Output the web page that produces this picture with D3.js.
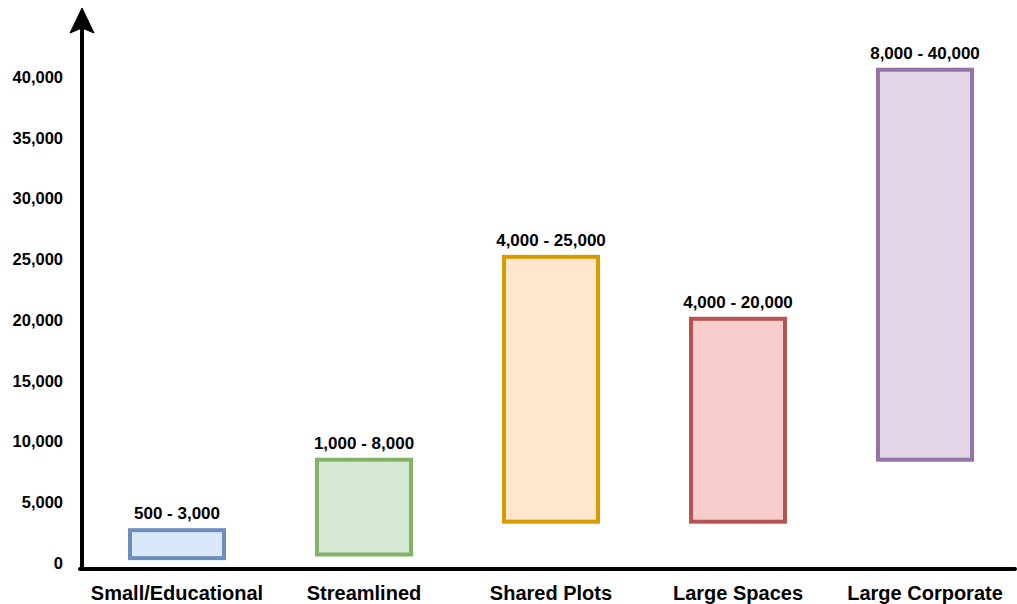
<!DOCTYPE html>
<html>
<head>
<meta charset="utf-8">
<script src="https://cdn.jsdelivr.net/npm/d3@7"></script>
<style>
  body { margin: 0; background: #fff; }
  svg text { font-family: Helvetica, Arial, "Liberation Sans", sans-serif; font-weight: bold; fill: #000; }
</style>
</head>
<body>
<svg id="chart" width="1017" height="604"></svg>
<script>
// categories and ranges (bar extents as drawn in the picture)
var categories = ["Small/Educational", "Streamlined", "Shared Plots", "Large Spaces", "Large Corporate"];
var lows = [400, 700, 3400, 3400, 8500];
var highs = [2700, 8500, 25200, 20100, 40600];
var rangeLabels = ["500 - 3,000", "1,000 - 8,000", "4,000 - 25,000", "4,000 - 20,000", "8,000 - 40,000"];
var yTicks = [0, 5000, 10000, 15000, 20000, 25000, 30000, 35000, 40000];
var fills = ["#dae8fc", "#d5e8d4", "#ffe6cc", "#f8cecc", "#e1d5e7"];
var strokes = ["#6c8ebf", "#82b366", "#d79b00", "#b85450", "#9673a6"];

var data = categories.map(function (c, i) {
    return {cat: c, low: lows[i], high: highs[i], label: rangeLabels[i], fill: fills[i], stroke: strokes[i]};
});

var svg = d3.select("#chart");
var axisX = 82, axisY = 569;

var x = d3.scalePoint()
    .domain(categories)
    .range([177, 925]);
var barW = 94;

var y = d3.scaleLinear()
    .domain([0, 40000])
    .range([563, 77]);

// y tick labels
var yAxis = svg.append("g")
    .attr("transform", "translate(" + axisX + ",0)")
    .call(d3.axisLeft(y).tickValues(yTicks).tickSize(0).tickPadding(19).tickFormat(d3.format(",")));
yAxis.select(".domain").remove();
yAxis.selectAll("text")
    .style("font-size", "16.5px")
    .style("font-family", "Helvetica, Arial, 'Liberation Sans', sans-serif")
    .style("font-weight", "bold")
    .attr("fill", "#000");

// bars
svg.selectAll("rect.bar")
    .data(data)
    .enter().append("rect")
    .attr("class", "bar")
    .attr("x", function (d) { return x(d.cat) - barW / 2; })
    .attr("y", function (d) { return y(d.high); })
    .attr("width", barW)
    .attr("height", function (d) { return y(d.low) - y(d.high); })
    .style("fill", function (d) { return d.fill; })
    .style("stroke", function (d) { return d.stroke; })
    .style("stroke-width", "4px");

// range labels above bars
svg.selectAll("text.range")
    .data(data)
    .enter().append("text")
    .attr("class", "range")
    .attr("x", function (d) { return x(d.cat); })
    .attr("y", function (d) { return y(d.high) - 11; })
    .attr("text-anchor", "middle")
    .style("font-size", "17px")
    .text(function (d) { return d.label; });

// category labels
svg.selectAll("text.cat")
    .data(data)
    .enter().append("text")
    .attr("class", "cat")
    .attr("x", function (d) { return x(d.cat); })
    .attr("y", 600)
    .attr("text-anchor", "middle")
    .style("font-size", "20px")
    .text(function (d) { return d.cat; });

// axes lines
svg.append("line")
    .attr("x1", axisX).attr("y1", 28)
    .attr("x2", axisX).attr("y2", axisY + 2)
    .style("stroke", "#000").style("stroke-width", "4px");
svg.append("line")
    .attr("x1", axisX - 2).attr("y1", axisY)
    .attr("x2", 1015).attr("y2", axisY)
    .style("stroke", "#000").style("stroke-width", "4px")
    .style("stroke-linecap", "round");
svg.append("path")
    .attr("d", d3.line()([[axisX, 8], [axisX + 12, 33], [axisX, 28], [axisX - 12, 33]]) + "Z")
    .style("fill", "#000")
    .style("stroke", "#000")
    .style("stroke-width", "1px")
    .style("stroke-linejoin", "miter");
</script>
</body>
</html>
